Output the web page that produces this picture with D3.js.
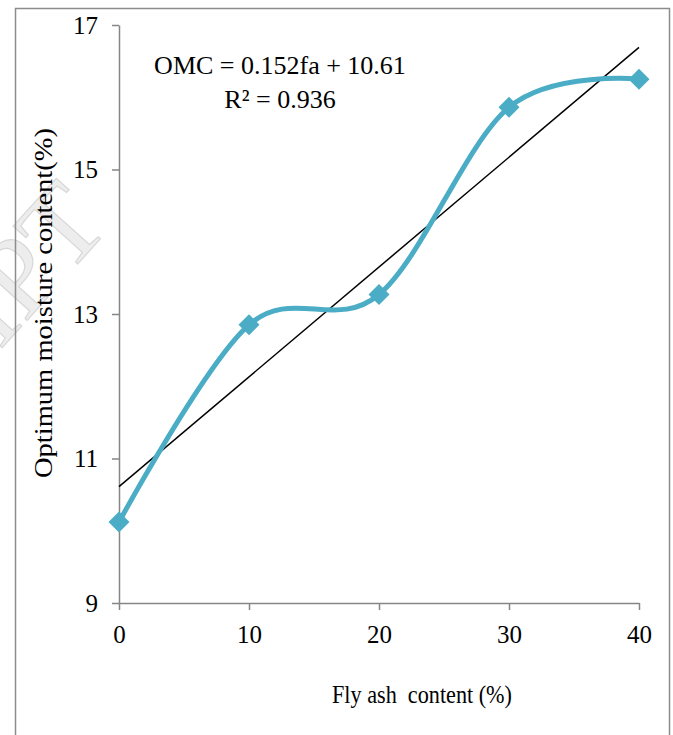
<!DOCTYPE html>
<html>
<head>
<meta charset="utf-8">
<script src="https://cdn.jsdelivr.net/npm/d3@7"></script>
<style>
  body { margin: 0; background: #fff; }
  svg { display: block; font-family: "Liberation Serif", "Times New Roman", serif; }
</style>
</head>
<body>
<svg id="chart" width="673" height="735"></svg>
<script>
// fly ash content (%) vs optimum moisture content (%)
const flyAsh = [0, 10, 20, 30, 40];
const omc = [10.12, 12.85, 13.27, 15.86, 16.25];
const xTicks = [0, 10, 20, 30, 40];
const yTicks = [9, 11, 13, 15, 17];
// linear fit: OMC = slope * fa + intercept
const fitSlope = 0.152;
const fitIntercept = 10.61;
const fitLabels = ['OMC = 0.152fa + 10.61', 'R² = 0.936'];

const margin = {top: 25, right: 34, bottom: 132, left: 119};
const width = 673 - margin.left - margin.right,
      height = 735 - margin.top - margin.bottom;

const svg = d3.select('#chart');

// faint watermark behind everything
svg.append('text')
   .attr('transform', 'translate(112,226) rotate(-48)')
   .attr('text-anchor', 'end')
   .attr('font-size', 112)
   .attr('fill', '#ededed')
   .attr('stroke', '#d8d8d8')
   .attr('stroke-width', 1.2)
   .text('ACCEPTED MANUSCRIPT');

// outer frame
svg.append('rect')
   .attr('x', 15.5).attr('y', 8.5)
   .attr('width', 654).attr('height', 740)
   .attr('fill', 'none')
   .attr('stroke', '#8c8c8c')
   .attr('stroke-width', 1.5);

const g = svg.append('g')
   .attr('transform', 'translate(' + margin.left + ',' + margin.top + ')');

const x = d3.scaleLinear().domain([0, 40]).range([0, width]);
const y = d3.scaleLinear().domain([9, 17]).range([height, 0]);

const xAxis = g.append('g')
   .attr('transform', 'translate(0,' + height + ')')
   .call(d3.axisBottom(x).tickValues(xTicks).tickSize(7).tickPadding(15).tickSizeOuter(0));

const yAxis = g.append('g')
   .call(d3.axisLeft(y).tickValues(yTicks).tickSize(7).tickPadding(14).tickSizeOuter(0));

[xAxis, yAxis].forEach(a => {
  a.selectAll('path, line').attr('stroke', '#868686').attr('stroke-width', 1.5);
  a.selectAll('text')
   .attr('fill', '#000')
   .attr('font-family', '"Liberation Serif", serif')
   .attr('font-size', 25);
});

// trend line
g.append('line')
   .attr('x1', x(0)).attr('y1', y(fitIntercept))
   .attr('x2', x(40)).attr('y2', y(fitSlope * 40 + fitIntercept))
   .attr('stroke', '#000')
   .attr('stroke-width', 1.5);

const pts = flyAsh.map((d, i) => [x(d), y(omc[i])]);

// smoothed data line
g.append('path')
   .datum(pts)
   .attr('fill', 'none')
   .attr('stroke', '#4bacc6')
   .attr('stroke-width', 5)
   .attr('d', d3.line().curve(d3.curveCardinal.tension(0)));

// diamond markers
g.selectAll('.marker')
   .data(pts)
   .join('path')
   .attr('class', 'marker')
   .attr('transform', d => 'translate(' + d[0] + ',' + d[1] + ')')
   .attr('d', 'M0,-10.5L10.5,0L0,10.5L-10.5,0Z')
   .attr('fill', '#4bacc6');

// fit equation
g.selectAll('.fit')
   .data(fitLabels)
   .join('text')
   .attr('class', 'fit')
   .attr('x', 161)
   .attr('y', (d, i) => 49 + i * 34)
   .attr('text-anchor', 'middle')
   .attr('font-size', 26)
   .text(d => d);

// axis titles
svg.append('text')
   .attr('x', 332).attr('y', 703)
   .attr('font-size', 26)
   .attr('textLength', 180)
   .attr('lengthAdjust', 'spacingAndGlyphs')
   .attr('xml:space', 'preserve')
   .text('Fly ash  content (%)');

svg.append('text')
   .attr('transform', 'translate(52,478) rotate(-90)')
   .attr('font-size', 25)
   .attr('textLength', 350)
   .attr('lengthAdjust', 'spacingAndGlyphs')
   .text('Optimum moisture content(%)');
</script>
</body>
</html>
